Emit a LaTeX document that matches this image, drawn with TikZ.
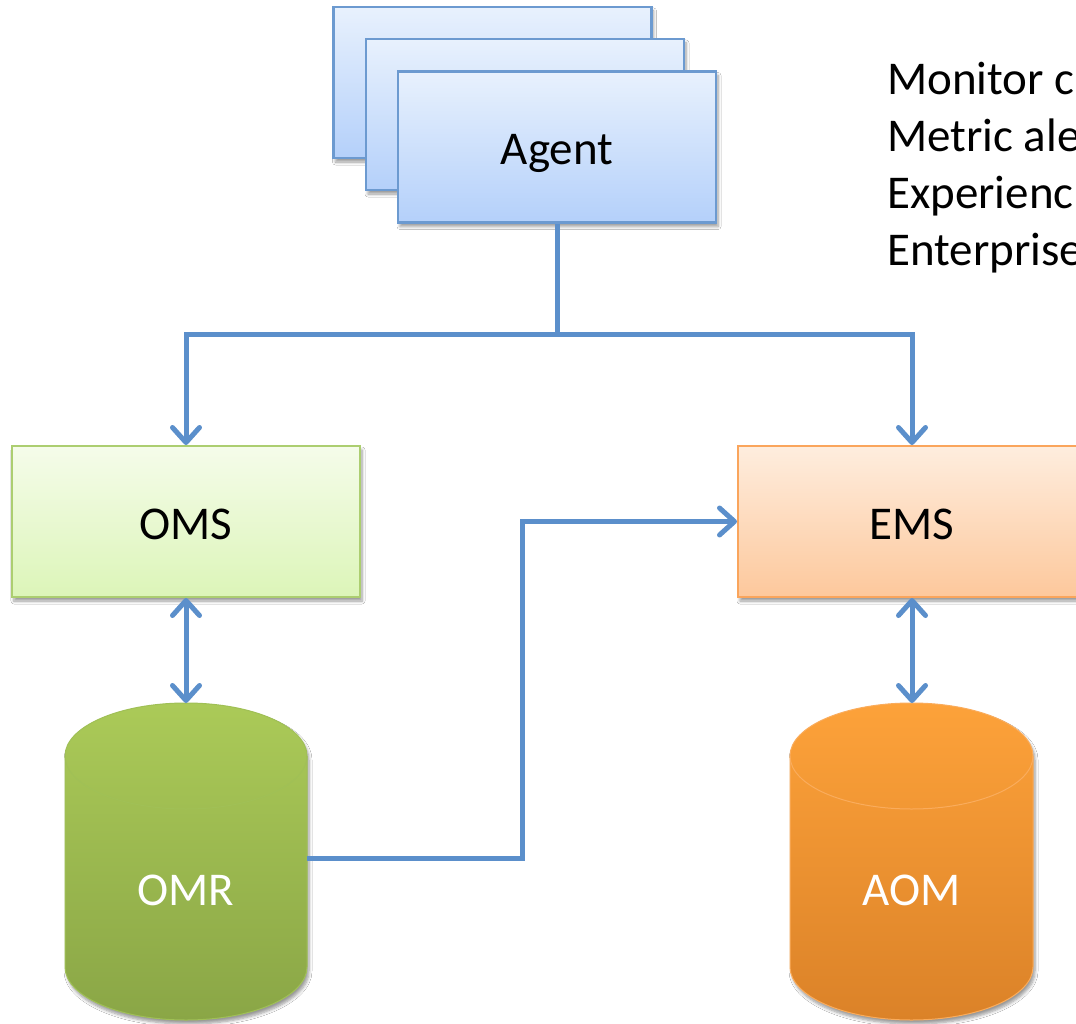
\documentclass[tikz,border=0pt]{standalone}
\usepackage{fontspec}
\setmainfont{Carlito}
\usetikzlibrary{arrows.meta,shadows.blur}
\definecolor{connblue}{RGB}{91,143,203}
\definecolor{agentborder}{RGB}{108,154,208}
\definecolor{agenttop}{RGB}{232,241,253}
\definecolor{agentbot}{RGB}{180,208,250}
\definecolor{omsborder}{RGB}{172,206,112}
\definecolor{omstop}{RGB}{245,252,234}
\definecolor{omsbot}{RGB}{220,245,184}
\definecolor{emsborder}{RGB}{250,165,92}
\definecolor{emstop}{RGB}{254,237,222}
\definecolor{emsbot}{RGB}{253,200,156}
\definecolor{omrtop}{RGB}{171,202,88}
\definecolor{omrbot}{RGB}{138,166,70}
\definecolor{omrline}{RGB}{160,192,86}
\definecolor{aomtop}{RGB}{253,162,58}
\definecolor{aombot}{RGB}{219,130,40}
\definecolor{aomline}{RGB}{250,172,92}
\begin{document}
\begin{tikzpicture}[x=1pt,y=-1pt,
  txt/.style={font={\fontsize{47pt}{57pt}\selectfont}},
  boxtxt/.style={txt, text height=36pt, text depth=0pt},
  softshadow/.style={blur shadow={shadow blur steps=6, shadow xshift=2pt, shadow yshift=-4pt, shadow blur radius=3pt, shadow opacity=40}},
  agentbox/.style={rectangle, boxtxt, draw=agentborder, line width=2.5pt, top color=agenttop, bottom color=agentbot, minimum width=318pt, minimum height=151pt, softshadow},
  omsbox/.style={rectangle, boxtxt, draw=omsborder, line width=2pt, top color=omstop, bottom color=omsbot, minimum width=348pt, minimum height=151pt, softshadow},
  emsbox/.style={rectangle, boxtxt, draw=emsborder, line width=2pt, top color=emstop, bottom color=emsbot, minimum width=348pt, minimum height=151pt, softshadow},
  dbarea/.style={rectangle, inner sep=0pt, outer sep=0pt, minimum width=242pt, minimum height=317pt},
  dblabel/.style={txt, text=white, inner sep=0pt},
  sidetext/.style={txt, anchor=base west, inner sep=0pt},
  conn/.style={draw=connblue, line width=5pt},
  >={Straight Barb[length=15pt,width=27pt,round]}
]
\useasboundingbox (0,0) rectangle (1076,1024);
\clip (0,0) rectangle (1076,1024);
\fill[white] (0,0) rectangle (1076,1024);

% agent stack
\node[agentbox] (agent3) at (492.5,82.5) {};
\node[agentbox] (agent2) at (525,114.5) {};
\node[agentbox] (agent) at (557,147) {Agent};

% servers
\node[omsbox] (oms) at (186,521.5) {OMS};
\node[emsbox] (ems) at (912,521.5) {EMS};

% repositories
\node[dbarea] (omr) at (186,861.5) {};
\node[dbarea] (aom) at (911.5,861.5) {};
\path[softshadow, top color=omrtop, bottom color=omrbot, draw=omrline, line width=1pt]
  (65,756) -- (65,967) arc[start angle=180, end angle=0, x radius=121, y radius=53]
  -- (307,756) arc[start angle=0, end angle=-180, x radius=121, y radius=53] -- cycle;
\draw[omrline, line width=1pt] (65,756) arc[start angle=180, end angle=0, x radius=121, y radius=53];
\path[softshadow, top color=aomtop, bottom color=aombot, draw=aomline, line width=1pt]
  (790,756) -- (790,967) arc[start angle=180, end angle=0, x radius=121.5, y radius=53]
  -- (1033,756) arc[start angle=0, end angle=-180, x radius=121.5, y radius=53] -- cycle;
\draw[aomline, line width=1pt] (790,756) arc[start angle=180, end angle=0, x radius=121.5, y radius=53];
\node[dblabel] (omrlabel) at (186,890) {OMR};
\node[dblabel] (aomlabel) at (911.5,890) {AOM};

% side text
\node[sidetext] (line1) at (887,95) {Monitor c};
\node[sidetext] (line2) at (887,152) {Metric ale};
\node[sidetext] (line3) at (887,209) {Experienc};
\node[sidetext] (line4) at (887,266) {Enterprise};

% connectors
\coordinate (junc) at (557,334);
\coordinate (bend) at (522,858.5);
\draw[conn] (agent.south) -- (junc);
\draw[conn,->] (junc) -| (oms.north);
\draw[conn,->] (junc) -| (ems.north);
\draw[conn,<->] (oms.south) -- (omr.north);
\draw[conn,<->] (ems.south) -- (ems.south |- aom.north);
\draw[conn,->] ([yshift=3pt]omr.east) -- (bend) |- (ems.west);
\end{tikzpicture}
\end{document}
